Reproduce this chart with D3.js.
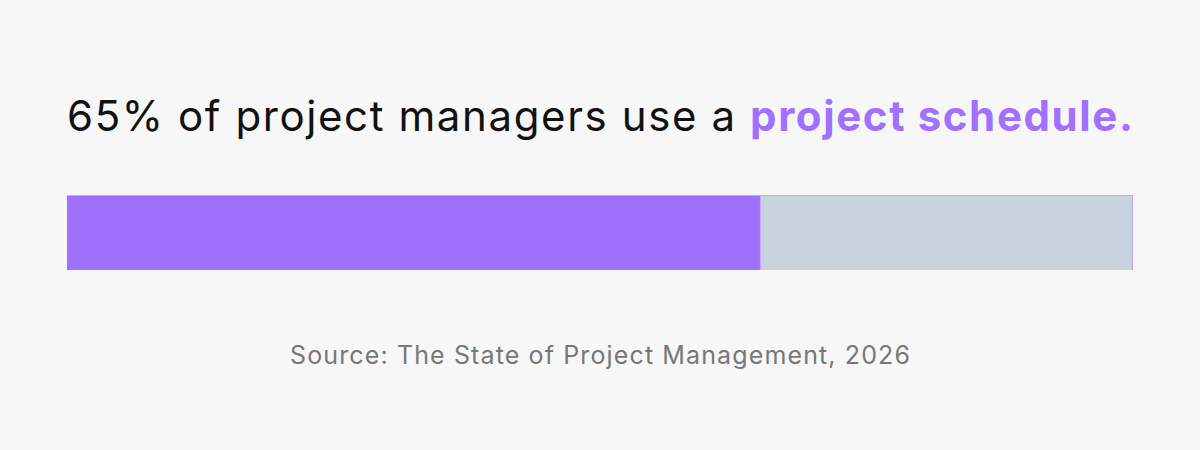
<!DOCTYPE html>
<html><head><meta charset="utf-8">
<script src="https://cdn.jsdelivr.net/npm/d3@7"></script>
<style>body{margin:0;background:#f7f7f7}</style></head>
<body><svg id="c" width="1200" height="450"></svg>
<script>
const categories = ["Use a project schedule", "Other"];
const values = [65, 35];
const titleParts = ["65% of project managers use a ", "project schedule."];
const source = "Source: The State of Project Management, 2026";

const svg = d3.select("#c");
svg.append("rect").attr("width",1200).attr("height",450).attr("fill","#f7f7f7");
const x = d3.scaleLinear().domain([0,100]).range([67,1133]);
const colors = d3.scaleOrdinal().domain(categories).range(["#a070ff","#c9d3dd"]);
let cum = 0;
const segs = values.map((v,i)=>{const s={c:categories[i],x0:cum,x1:cum+v};cum+=v;return s;});
svg.append("rect").attr("x",x(0)).attr("y",195).attr("width",x(100)-x(0)).attr("height",75).attr("fill","#c0a8f8");
svg.selectAll("rect.seg").data(segs).join("rect").attr("class","seg")
  .attr("x",d=>x(d.x0)+(d.x0>0?1:0)).attr("y",196)
  .attr("width",d=>x(d.x1)-x(d.x0)-(d.x0>0?2:0)).attr("height",74)
  .attr("fill",d=>colors(d.c));
const t = svg.append("text").attr("x",67).attr("y",131)
  .attr("font-family","Inter, sans-serif").attr("font-size",42).attr("fill","#111")
  .attr("textLength",1066).attr("lengthAdjust","spacing");
t.append("tspan").text(titleParts[0]);
t.append("tspan").text(titleParts[1]).attr("fill","#a070ff").attr("font-weight",700);
svg.append("text").attr("x",290).attr("y",364)
  .attr("font-family","Inter, sans-serif").attr("font-size",25).attr("fill","#777")
  .attr("textLength",620).attr("lengthAdjust","spacing").text(source);
</script></body></html>
